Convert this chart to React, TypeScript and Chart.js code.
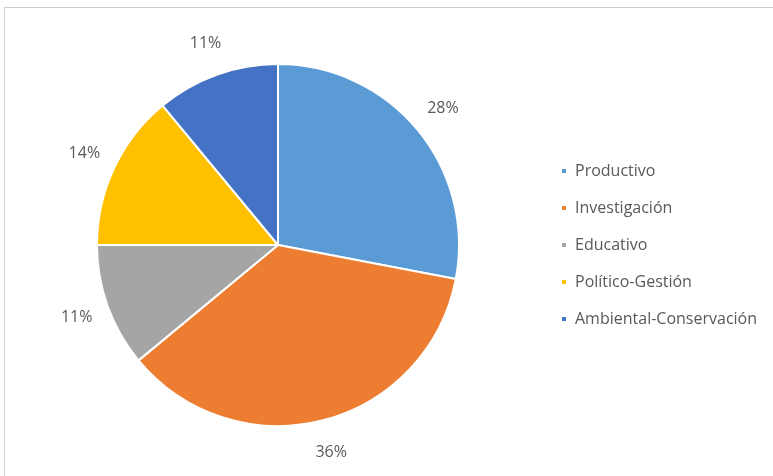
import React, { useEffect, useRef } from "react";
import { Chart, registerables } from "chart.js";

Chart.register(...registerables);

const categories = ["Productivo", "Investigación", "Educativo", "Político-Gestión", "Ambiental-Conservación"];
const shares = [28, 36, 11, 14, 11];
const colors = ["#5B9BD5", "#ED7D31", "#A5A5A5", "#FFC000", "#4472C4"];

const FONT = "'Open Sans', 'Liberation Sans', sans-serif";
const TEXT = "#595959";
const LEGEND_WIDTH = 233;

const outsideLabels = {
  id: "outsideLabels",
  afterDatasetsDraw(chart: any) {
    const ctx = chart.ctx;
    const meta = chart.getDatasetMeta(0);
    const data = chart.data.datasets[0].data as number[];
    const total = data.reduce((a, b) => a + b, 0);
    ctx.save();
    ctx.font = `16px ${FONT}`;
    ctx.fillStyle = TEXT;
    ctx.textAlign = "center";
    ctx.textBaseline = "middle";
    meta.data.forEach((arc: any, i: number) => {
      const p = arc.getProps(["x", "y", "startAngle", "endAngle", "outerRadius"], true);
      const mid = (p.startAngle + p.endAngle) / 2;
      const d = p.outerRadius + 33;
      const tx = p.x + Math.cos(mid) * d;
      const ty = p.y + Math.sin(mid) * d;
      ctx.fillText(Math.round((data[i] / total) * 100) + "%", tx, ty);
    });
    ctx.restore();
  },
};

const fixedLegendWidth = {
  id: "fixedLegendWidth",
  beforeLayout(chart: any) {
    const lg = chart.legend;
    if (lg && !lg.__patched) {
      const orig = lg.fit.bind(lg);
      lg.fit = function () {
        orig();
        this.width = LEGEND_WIDTH;
      };
      lg.__patched = true;
    }
  },
};

export default function App() {
  const ref = useRef<HTMLCanvasElement | null>(null);
  useEffect(() => {
    if (!ref.current) return;
    const chart = new Chart(ref.current, {
      type: "pie",
      data: {
        labels: categories,
        datasets: [
          {
            data: shares,
            backgroundColor: colors,
            borderColor: "#ffffff",
            borderWidth: 2,
          },
        ],
      },
      options: {
        responsive: false,
        animation: false,
        radius: 181,
        layout: { padding: { left: 16, top: 14, right: 0, bottom: 0 } },
        plugins: {
          tooltip: { enabled: false },
          legend: {
            position: "right",
            labels: {
              boxWidth: 6,
              boxHeight: 6,
              padding: 21,
              color: TEXT,
              font: { family: FONT, size: 16 },
            },
          },
        },
      } as any,
      plugins: [fixedLegendWidth, outsideLabels],
    });
    return () => chart.destroy();
  }, []);

  return (
    <div style={{ position: "fixed", left: 0, top: 0, width: 773, height: 476, background: "#ffffff", overflow: "hidden" }}>
      <div
        style={{
          position: "absolute",
          left: 4,
          top: 7,
          width: 800,
          height: 500,
          border: "1px solid #cfcfcf",
          boxSizing: "border-box",
        }}
      />
      <canvas ref={ref} width={773} height={476} style={{ position: "absolute", left: 0, top: 0, width: 773, height: 476 }} />
    </div>
  );
}
